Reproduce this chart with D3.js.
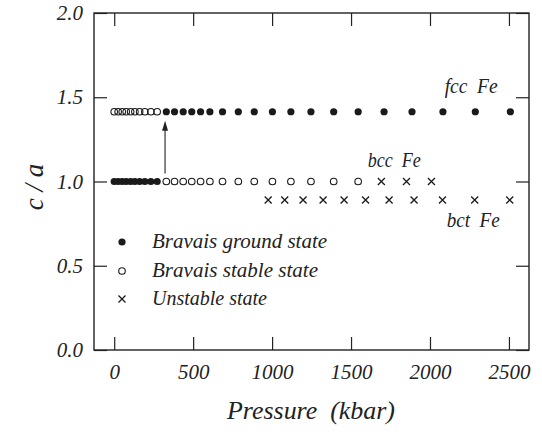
<!DOCTYPE html>
<html>
<head>
<meta charset="utf-8">
<script src="https://cdn.jsdelivr.net/npm/d3@7"></script>
<style>
  html, body { margin: 0; padding: 0; background: #fff; }
  svg { display: block; }
  text { font-family: "Liberation Serif", "DejaVu Serif", serif; font-style: italic; fill: #222; white-space: pre; }
</style>
</head>
<body>
<svg id="chart" width="542" height="437"></svg>
<script>
// ---- data (pressure in kbar, c/a ratio) ----
const lowPressures = [0, 25, 51, 76, 104, 131, 161, 194, 232, 272];
const highPressures = [330, 382, 437, 491, 547, 606, 686, 786, 887, 1002, 1119, 1246, 1390, 1545, 1709, 1886, 2082, 2287, 2509];
const bccStablePressures = [330, 382, 437, 491, 547, 606, 686, 786, 887, 1002, 1119, 1246, 1390, 1545];
const bccUnstablePressures = [1692, 1851, 2009];
const bctPressures = [975, 1080, 1196, 1323, 1456, 1592, 1741, 1899, 2079, 2283, 2505];
const fccRatio = 1.414;
const bccRatio = 1.0;
const bctRatio = 0.89;
const xTicks = [0, 500, 1000, 1500, 2000, 2500];
const yTicks = [0.0, 0.5, 1.0, 1.5, 2.0];
const legendLabels = ["Bravais ground state", "Bravais stable state", "Unstable state"];
const transitionPressure = 322;

const groundPts = highPressures.map(p => ({p, r: fccRatio}))
  .concat(lowPressures.map(p => ({p, r: bccRatio})));
const stablePts = lowPressures.map(p => ({p, r: fccRatio}))
  .concat(bccStablePressures.map(p => ({p, r: bccRatio})));
const unstablePts = bccUnstablePressures.map(p => ({p, r: bccRatio}))
  .concat(bctPressures.map(p => ({p, r: bctRatio})));

const svg = d3.select("#chart");
const mLeft = 94, mRight = 529, mTop = 13, mBottom = 350;
const x = d3.scaleLinear().domain([-128, 2627]).range([mLeft, mRight]);
const y = d3.scaleLinear().domain([0, 2]).range([mBottom, mTop]);
const ink = "#222";

// frame
svg.append("rect").attr("x", mLeft).attr("y", mTop)
  .attr("width", mRight - mLeft).attr("height", mBottom - mTop)
  .attr("fill", "none").attr("stroke", ink).attr("stroke-width", 1.4);

// axes with inward ticks
const tl = 13;
svg.append("g").attr("transform", `translate(0,${mBottom})`)
  .call(d3.axisBottom(x).tickValues(xTicks).tickSizeInner(-tl).tickSizeOuter(0).tickPadding(14).tickFormat(d3.format("d")))
  .call(g => g.select(".domain").remove());
svg.append("g").attr("transform", `translate(0,${mTop})`)
  .call(d3.axisTop(x).tickValues(xTicks).tickSizeInner(-tl).tickSizeOuter(0).tickFormat(""))
  .call(g => g.select(".domain").remove());
svg.append("g").attr("transform", `translate(${mLeft},0)`)
  .call(d3.axisLeft(y).tickValues(yTicks).tickSizeInner(-tl).tickSizeOuter(0).tickPadding(11).tickFormat(d3.format(".1f")))
  .call(g => g.select(".domain").remove());
svg.append("g").attr("transform", `translate(${mRight},0)`)
  .call(d3.axisRight(y).tickValues(yTicks).tickSizeInner(-tl).tickSizeOuter(0).tickFormat(""))
  .call(g => g.select(".domain").remove());
svg.selectAll(".tick line").attr("stroke", ink).attr("stroke-width", 1.2);
svg.selectAll(".tick text").attr("font-size", 21).attr("fill", ink)
  .style("font-family", '"Liberation Serif", serif').style("font-style", "italic");

// markers
const plot = svg.append("g");
plot.selectAll(".ground").data(groundPts).join("circle")
  .attr("cx", d => x(d.p)).attr("cy", d => y(d.r)).attr("r", 3.6).attr("fill", "#1a1a1a");
plot.selectAll(".stable").data(stablePts).join("circle")
  .attr("cx", d => x(d.p)).attr("cy", d => y(d.r)).attr("r", 3.3)
  .attr("fill", "none").attr("stroke", "#1a1a1a").attr("stroke-width", 1.1);
const cross = (g, cx, cy, s) => g.append("path")
  .attr("d", `M${cx - s},${cy - s}L${cx + s},${cy + s}M${cx - s},${cy + s}L${cx + s},${cy - s}`)
  .attr("stroke", "#1a1a1a").attr("stroke-width", 1.3).attr("fill", "none");
unstablePts.forEach(d => cross(plot, x(d.p), y(d.r), 3.5));

// transition arrow
const ax = x(transitionPressure);
svg.append("line").attr("x1", ax).attr("x2", ax)
  .attr("y1", y(bccRatio) - 8).attr("y2", y(fccRatio) + 12)
  .attr("stroke", ink).attr("stroke-width", 1.1);
svg.append("path")
  .attr("d", `M${ax},${y(fccRatio) + 9}L${ax - 3},${y(fccRatio) + 19}L${ax + 3},${y(fccRatio) + 19}Z`)
  .attr("fill", ink);

// annotations
const ann = [
  {t: "fcc  Fe", px: 2093, r: fccRatio, dy: -19},
  {t: "bcc  Fe", px: 1606, r: bccRatio, dy: -14.5},
  {t: "bct  Fe", px: 2106, r: bctRatio, dy: 27}
];
ann.forEach(a => svg.append("text").attr("x", x(a.px)).attr("y", y(a.r) + a.dy)
  .attr("font-size", 20).attr("textLength", 53).attr("lengthAdjust", "spacingAndGlyphs").text(a.t));

// legend
const lg = svg.append("g");
const ly = [242, 271, 299];
const lw = [175, 166, null];
lg.append("circle").attr("cx", 122).attr("cy", ly[0]).attr("r", 3.6).attr("fill", "#1a1a1a");
lg.append("circle").attr("cx", 122).attr("cy", ly[1]).attr("r", 3.3).attr("fill", "none")
  .attr("stroke", "#1a1a1a").attr("stroke-width", 1.1);
cross(lg, 122, ly[2], 3.5);
legendLabels.forEach((t, i) => {
  const el = lg.append("text").attr("x", 152).attr("y", ly[i] + 6).attr("font-size", 20).text(t);
  if (lw[i]) el.attr("textLength", lw[i]).attr("lengthAdjust", "spacingAndGlyphs");
});

// axis titles
svg.append("text").attr("x", 311).attr("y", 419)
  .attr("text-anchor", "middle").attr("font-size", 26)
  .attr("textLength", 168).attr("lengthAdjust", "spacingAndGlyphs").text("Pressure  (kbar)");
svg.append("text").attr("transform", `translate(43,187) rotate(-90)`)
  .attr("text-anchor", "middle").attr("font-size", 27).text("c / a");
</script>
</body>
</html>
